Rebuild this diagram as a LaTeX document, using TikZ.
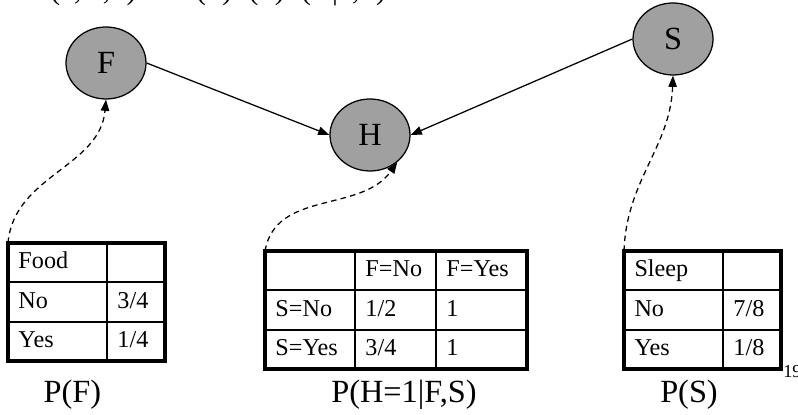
\documentclass[tikz,border=0pt]{standalone}
\usepackage{fontspec}
\setmainfont{Liberation Serif}
\usepackage{xcolor}
\usepackage{tikz}
\usetikzlibrary{shapes.geometric}
\usetikzlibrary{arrows.meta}
\usetikzlibrary{matrix, positioning}

\definecolor{nodegray}{RGB}{160,160,160}

\begin{document}
\begin{tikzpicture}[
  var/.style={ellipse, draw, fill=nodegray, line width=0.9pt, minimum width=2cm, minimum height=1.8cm, inner sep=0pt, font=\fontsize{23}{27}\selectfont},
  cpt/.style={matrix of nodes, nodes in empty cells, inner sep=0pt, outer sep=0pt, column sep=0pt, row sep=0pt,
    nodes={draw, line width=0.7pt, inner xsep=0.25cm, inner ysep=0pt, outer sep=0pt, minimum height=0.96cm,
      align=left, text height=0.85em, text depth=0pt, font=\fontsize{17.2}{20}\selectfont}},
  tabframe/.style={line width=2.8pt},
  lbl/.style={anchor=base, inner sep=0pt, font=\fontsize{23}{27}\selectfont},
  link/.style={->, line width=0.9pt},
  cond/.style={->, line width=0.9pt, dash pattern=on 4pt off 3pt},
]
\tikzset{>={Triangle[length=8pt, width=6pt]}}
\useasboundingbox (0,0) rectangle (19.95,10.375);
\clip (0,0) rectangle (19.95,10.375);

% joint distribution, cut off at the top
\node[anchor=base west, inner sep=0pt, font=\fontsize{21}{25}\selectfont] (joint) at (0.84,10.39)
  {P(F,H,S)\hspace{0.45em}=\hspace{0.45em}P(F)P(S)P(H|F,S)};

% variables
\node[var] (F) at (2.65, 8.80)  {F};
\node[var] (H) at (9.25, 7.00)  {H};
\node[var] (S) at (16.825, 9.40) {S};

% tables
\matrix (tabF) [cpt, anchor=north west,
  column 1/.style={nodes={text width=1.95cm}},
  column 2/.style={nodes={text width=0.925cm}}] at (0.2, 4.30) {
  Food &     \\
  No   & 3/4 \\
  Yes  & 1/4 \\
};
\matrix (tabH) [cpt, anchor=north west,
  column 1/.style={nodes={text width=1.725cm}},
  column 2/.style={nodes={text width=1.5cm}},
  column 3/.style={nodes={text width=1.75cm}}] at (6.625, 4.10) {
         & F=No & F=Yes \\
  S=No   & 1/2  & 1     \\
  S=Yes  & 3/4  & 1     \\
};
\matrix (tabS) [cpt, anchor=north west,
  column 1/.style={nodes={text width=1.95cm}},
  column 2/.style={nodes={text width=0.925cm}}] at (15.6, 4.10) {
  Sleep &     \\
  No    & 7/8 \\
  Yes   & 1/8 \\
};
\draw[tabframe] (tabF.north west) rectangle (tabF.south east);
\draw[tabframe] (tabH.north west) rectangle (tabH.south east);
\draw[tabframe] (tabS.north west) rectangle (tabS.south east);

% labels
\node[lbl] (lblF) at (1.81, 0.30)  {P(F)};
\node[lbl] (lblH) at (10.1, 0.30)  {P(H=1|F,S)};
\node[lbl] (lblS) at (17.225, 0.30) {P(S)};
\node[anchor=base west, inner sep=0pt, font=\fontsize{13}{15}\selectfont] (pageno) at (19.575, 0.93) {19};

\draw[link] (F.east) to (H.west);
\draw[link] (S.west) to (H.east);
\draw[cond] (tabF.north west) to[out=85, in=-95] (F.south);
\draw[cond] (tabH.north west) to[out=80, in=-125] (H.-45);
\draw[cond] (tabS.north west) to[out=88, in=-92] (S.south);
\end{tikzpicture}
\end{document}
